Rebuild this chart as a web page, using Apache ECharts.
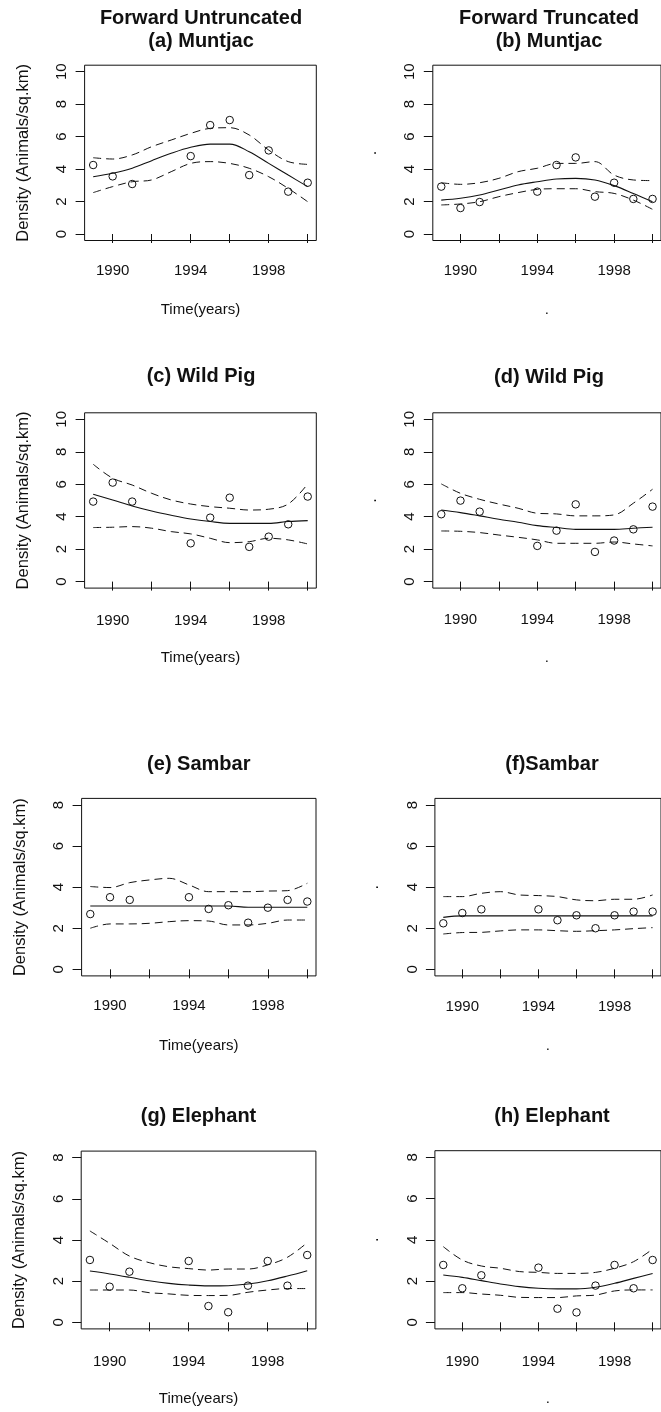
<!DOCTYPE html>
<html>
<head>
<meta charset="utf-8">
<script src="https://cdn.jsdelivr.net/npm/echarts@6/dist/echarts.min.js"></script>
<style>
html,body{margin:0;padding:0;background:#fff;}
#chart{width:661px;height:1412px;}
</style>
</head>
<body>
<div id="chart"></div>
<script>
// ---------- DATA ----------
const pointYears = [1989, 1990, 1991, 1994, 1995, 1996, 1997, 1998, 1999, 2000];
const fitYears = [1989, 1990, 1991, 1992, 1993, 1994, 1995, 1996, 1997, 1998, 1999, 2000];
const xTickValues = [1990, 1992, 1994, 1996, 1998, 2000];
const xLabelValues = [1990, 1994, 1998];
const yTicksTop = [0, 2, 4, 6, 8, 10];
const yTicksBottom = [0, 2, 4, 6, 8];

const titles = ["Forward Untruncated\n(a) Muntjac", "Forward Truncated\n(b) Muntjac",
  "(c) Wild Pig", "(d) Wild Pig", "(e) Sambar", "(f)Sambar", "(g) Elephant", "(h) Elephant"];
const xNames = ["Time(years)", ".", "Time(years)", ".", "Time(years)", ".", "Time(years)", "."];
const yNames = ["Density (Animals/sq.km)", ".", "Density (Animals/sq.km)", ".",
  "Density (Animals/sq.km)", ".", "Density (Animals/sq.km)", "."];

// (a) Muntjac, untruncated
const aPts = [4.25, 3.55, 3.08, 4.80, 6.71, 7.02, 3.63, 5.15, 2.61, 3.16];
const aFit = [3.53, 3.74, 4.05, 4.52, 4.97, 5.34, 5.54, 5.54, 5.07, 4.35, 3.63, 2.92];
const aUp  = [4.70, 4.62, 4.87, 5.38, 5.79, 6.20, 6.51, 6.55, 6.10, 5.17, 4.46, 4.29];
const aLo  = [2.55, 2.92, 3.22, 3.33, 3.84, 4.35, 4.46, 4.35, 4.05, 3.53, 2.81, 1.99];
// (b) Muntjac, truncated
const bPts = [2.92, 1.60, 1.97, 2.61, 4.25, 4.72, 2.30, 3.16, 2.16, 2.16];
const bFit = [2.09, 2.20, 2.40, 2.71, 3.02, 3.22, 3.39, 3.43, 3.33, 2.98, 2.50, 1.99];
const bUp  = [3.16, 3.06, 3.16, 3.43, 3.84, 4.05, 4.35, 4.35, 4.46, 3.63, 3.33, 3.29];
const bLo  = [1.79, 1.85, 1.99, 2.30, 2.55, 2.75, 2.79, 2.79, 2.61, 2.50, 2.09, 1.52];
// (c) Wild Pig, untruncated
const cPts = [4.93, 6.10, 4.93, 2.36, 3.94, 5.17, 2.14, 2.77, 3.53, 5.24];
const cFit = [5.38, 5.03, 4.66, 4.35, 4.09, 3.86, 3.70, 3.59, 3.59, 3.59, 3.70, 3.76];
const cUp  = [7.23, 6.37, 5.95, 5.44, 5.03, 4.78, 4.62, 4.52, 4.41, 4.46, 4.78, 6.02];
const cLo  = [3.33, 3.35, 3.39, 3.29, 3.08, 2.94, 2.67, 2.40, 2.46, 2.67, 2.57, 2.32];
// (d) Wild Pig, truncated
const dPts = [4.15, 4.99, 4.31, 2.20, 3.14, 4.76, 1.83, 2.53, 3.22, 4.62];
const dFit = [4.41, 4.25, 4.05, 3.84, 3.66, 3.45, 3.33, 3.22, 3.22, 3.22, 3.29, 3.35];
const dUp  = [6.02, 5.44, 5.07, 4.78, 4.52, 4.21, 4.17, 4.05, 4.05, 4.11, 4.83, 5.69];
const dLo  = [3.12, 3.10, 3.02, 2.87, 2.73, 2.57, 2.36, 2.36, 2.36, 2.44, 2.32, 2.20];
// (e) Sambar, untruncated
const ePts = [2.69, 3.51, 3.38, 3.51, 2.94, 3.12, 2.27, 3.00, 3.38, 3.30];
const eFit = [3.08, 3.08, 3.08, 3.08, 3.08, 3.08, 3.08, 3.08, 3.02, 3.02, 3.02, 3.02];
const eUp  = [4.03, 3.98, 4.22, 4.35, 4.43, 4.11, 3.78, 3.78, 3.78, 3.81, 3.83, 4.19];
const eLo  = [2.00, 2.21, 2.21, 2.24, 2.32, 2.37, 2.35, 2.16, 2.16, 2.24, 2.40, 2.40];
// (f) Sambar, truncated
const fPts = [2.24, 2.74, 2.92, 2.92, 2.39, 2.63, 2.00, 2.63, 2.81, 2.81];
const fFit = [2.53, 2.60, 2.60, 2.60, 2.60, 2.60, 2.60, 2.60, 2.60, 2.60, 2.60, 2.60];
const fUp  = [3.54, 3.54, 3.70, 3.78, 3.62, 3.59, 3.54, 3.38, 3.34, 3.41, 3.41, 3.62];
const fLo  = [1.72, 1.79, 1.80, 1.87, 1.92, 1.92, 1.88, 1.85, 1.88, 1.92, 1.98, 2.03];
// (g) Elephant, untruncated
const gPts = [3.03, 1.73, 2.46, 2.98, 0.79, 0.49, 1.78, 2.98, 1.78, 3.27];
const gFit = [2.49, 2.35, 2.19, 2.02, 1.89, 1.81, 1.77, 1.78, 1.86, 2.02, 2.25, 2.51];
const gUp  = [4.44, 3.84, 3.22, 2.90, 2.70, 2.61, 2.54, 2.59, 2.59, 2.79, 3.16, 3.87];
const gLo  = [1.57, 1.57, 1.57, 1.44, 1.38, 1.31, 1.30, 1.31, 1.46, 1.57, 1.64, 1.64];
// (h) Elephant, truncated
const hPts = [2.78, 1.65, 2.28, 2.65, 0.66, 0.48, 1.78, 2.78, 1.65, 3.02];
const hFit = [2.29, 2.18, 2.02, 1.86, 1.73, 1.65, 1.62, 1.62, 1.70, 1.89, 2.13, 2.37];
const hUp  = [3.67, 3.02, 2.73, 2.62, 2.46, 2.42, 2.37, 2.37, 2.42, 2.62, 2.94, 3.55];
const hLo  = [1.44, 1.44, 1.37, 1.31, 1.21, 1.20, 1.20, 1.28, 1.32, 1.52, 1.57, 1.57];

const panelData = [
  [aPts, aFit, aUp, aLo], [bPts, bFit, bUp, bLo],
  [cPts, cFit, cUp, cLo], [dPts, dFit, dUp, dLo],
  [ePts, eFit, eUp, eLo], [fPts, fFit, fUp, fLo],
  [gPts, gFit, gUp, gLo], [hPts, hFit, hUp, hLo]
];
const yMaxTick = [10, 10, 10, 10, 8, 8, 8, 8];

// ---------- LAYOUT ----------
const layout = [
  {left: 84.6, top: 65.2, width: 231.7, height: 175.3, titleX: 201, titleTop: 6.8, xm: 23},
  {left: 432.8, top: 65.2, width: 232.5, height: 175.3, titleX: 549, titleTop: 6.8, xm: 23},
  {left: 84.6, top: 412.8, width: 231.7, height: 175.3, titleX: 201, titleTop: 365.2, xm: 25},
  {left: 432.8, top: 412.8, width: 232.5, height: 175.3, titleX: 549, titleTop: 366.2, xm: 24},
  {left: 81.6, top: 798.4, width: 234.4, height: 177.5, titleX: 198.8, titleTop: 752.5, xm: 22},
  {left: 434.9, top: 798.4, width: 234.5, height: 177.5, titleX: 552, titleTop: 752.5, xm: 23},
  {left: 81.2, top: 1151.1, width: 234.7, height: 177.8, titleX: 198.5, titleTop: 1104.5, xm: 25},
  {left: 434.9, top: 1150.7, width: 234.5, height: 178.2, titleX: 552, titleTop: 1104.5, xm: 25}
];

const FONT = "'Liberation Sans', Arial, Helvetica, sans-serif";
const INK = '#111';

const grids = [], xAxes = [], yAxes = [], series = [], titleOpts = [];
layout.forEach((L, i) => {
  grids.push({left: L.left, top: L.top, width: L.width, height: L.height,
    show: true, borderColor: INK, borderWidth: 1, backgroundColor: 'transparent', containLabel: false});
  titleOpts.push({text: titles[i], left: L.titleX, top: L.titleTop, textAlign: 'center', padding: 0,
    textStyle: {fontFamily: FONT, fontWeight: 'bold', fontSize: 20, lineHeight: 23, color: INK}});
  const xmin = 1988.56, xmax = 2000.44;
  xAxes.push({type: 'value', gridIndex: i, min: xmin, max: xmax,
    axisLine: {show: false},
    axisTick: {show: true, length: 9, customValues: xTickValues, lineStyle: {color: INK, width: 1}},
    axisLabel: {show: true, customValues: xLabelValues, margin: L.xm, fontFamily: FONT, fontSize: 15, color: INK,
      formatter: v => String(Math.round(v))},
    splitLine: {show: false},
    name: xNames[i], nameLocation: 'middle', nameGap: 62,
    nameTextStyle: {fontFamily: FONT, fontSize: 15, color: INK}
  });
  const ym = yMaxTick[i];
  const pad = ym * 0.04;
  yAxes.push({type: 'value', gridIndex: i, min: -pad, max: ym + pad,
    axisLine: {show: false},
    axisTick: {show: true, length: 9, customValues: ym === 10 ? yTicksTop : yTicksBottom, lineStyle: {color: INK, width: 1}},
    axisLabel: {show: true, customValues: ym === 10 ? yTicksTop : yTicksBottom, rotate: 90, margin: 15,
      fontFamily: FONT, fontSize: 15, color: INK, formatter: v => String(Math.round(v))},
    splitLine: {show: false},
    name: yNames[i], nameLocation: 'middle', nameGap: 53, nameRotate: 90,
    nameTextStyle: {fontFamily: FONT, fontSize: 16.5, color: INK}
  });
  const [pts, fit, up, lo] = panelData[i];
  const fitPairs = arr => fitYears.map((y, k) => [y, arr[k]]);
  series.push({type: 'scatter', xAxisIndex: i, yAxisIndex: i, symbol: 'circle', symbolSize: 7.5,
    itemStyle: {color: 'rgba(0,0,0,0)', borderColor: INK, borderWidth: 1, opacity: 1}, silent: true, z: 5,
    data: pointYears.map((y, k) => [y, pts[k]])});
  series.push({type: 'line', xAxisIndex: i, yAxisIndex: i, showSymbol: false, smooth: 0.35,
    lineStyle: {color: INK, width: 1.1, type: 'solid'}, data: fitPairs(fit), silent: true});
  [up, lo].forEach(b => series.push({type: 'line', xAxisIndex: i, yAxisIndex: i, showSymbol: false, smooth: 0.35,
    lineStyle: {color: INK, width: 1, type: [8, 5]}, data: fitPairs(b), silent: true}));
});

const chart = echarts.init(document.getElementById('chart'), null, {renderer: 'canvas'});
chart.setOption({
  backgroundColor: '#fff',
  animation: false,
  title: titleOpts,
  grid: grids,
  xAxis: xAxes,
  yAxis: yAxes,
  series: series
});
</script>
</body>
</html>
